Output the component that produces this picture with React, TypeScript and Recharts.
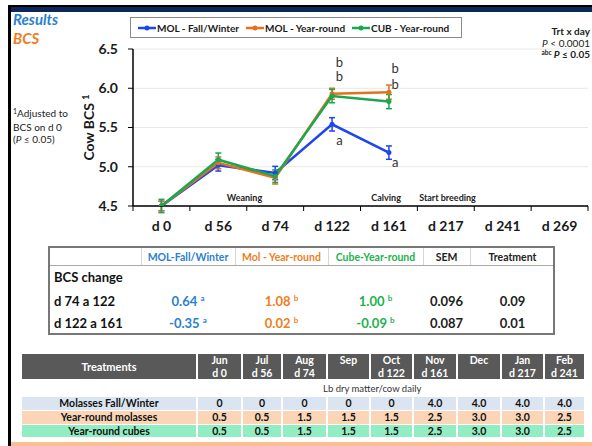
import React from "react";
import {
  LineChart,
  Line,
  XAxis,
  YAxis,
  CartesianGrid,
  ErrorBar,
  Legend,
  ReferenceDot
} from "recharts";

// chart values
const days = ["d 0", "d 56", "d 74", "d 122", "d 161", "d 217", "d 241", "d 269"];
const seriesNames = ["MOL - Fall/Winter", "MOL - Year-round", "CUB - Year-round"];
const molFall = [4.5, 5.02, 4.92, 5.54, 5.18];
const molYear = [4.5, 5.05, 4.86, 5.93, 5.95];
const cubYear = [4.5, 5.09, 4.88, 5.9, 5.83];
const molFallSem = [0.06, 0.075, 0.085, 0.085, 0.085];
const molYearSem = [0.06, 0.075, 0.08, 0.07, 0.09];
const cubYearSem = [0.085, 0.085, 0.08, 0.085, 0.09];
const yTicks = [4.5, 5.0, 5.5, 6.0, 6.5];

// significance letters and events, in data units
const sigLetters = [
  { x: 3.13, y: 6.33, t: "b" },
  { x: 3.13, y: 6.145, t: "b" },
  { x: 3.13, y: 5.34, t: "a" },
  { x: 4.11, y: 6.25, t: "b" },
  { x: 4.11, y: 6.05, t: "b" },
  { x: 4.11, y: 5.05, t: "a" }
];
const events = [
  { x: 1.46, y: 4.605, t: "Weaning" },
  { x: 3.95, y: 4.605, t: "Calving" },
  { x: 5.03, y: 4.605, t: "Start breeding" }
];

// BCS change table
const bcsHeaders = ["", "MOL-Fall/Winter", "Mol - Year-round", "Cube-Year-round", "SEM", "Treatment"];
const bcsPeriods = ["d 74 a 122", "d 122 a 161"];
const bcsMolFall = ["0.64", "-0.35"];
const bcsMolFallSig = ["a", "a"];
const bcsMolYear = ["1.08", "0.02"];
const bcsMolYearSig = ["b", "b"];
const bcsCub = ["1.00", "-0.09"];
const bcsCubSig = ["b", "b"];
const bcsSem = ["0.096", "0.087"];
const bcsTrt = ["0.09", "0.01"];

// supplement table
const months = ["Jun", "Jul", "Aug", "Sep", "Oct", "Nov", "Dec", "Jan", "Feb"];
const monthDays = ["d 0", "d 56", "d 74", "", "d 122", "d 161", "", "d 217", "d 241"];
const treatments = ["Molasses Fall/Winter", "Year-round molasses", "Year-round cubes"];
const feedMolFall = ["0", "0", "0", "0", "0", "4.0", "4.0", "4.0", "4.0"];
const feedMolYear = ["0.5", "0.5", "1.5", "1.5", "1.5", "2.5", "3.0", "3.0", "2.5"];
const feedCubes = ["0.5", "0.5", "1.5", "1.5", "1.5", "2.5", "3.0", "3.0", "2.5"];

const FONT = "Lato, 'Liberation Sans', sans-serif";
const BLUE = "#1f44f2";
const ORANGE = "#e8701c";
const GREEN = "#1aa84e";
const T_BLUE = "#2a7fcf";
const T_ORANGE = "#ef7d22";
const T_GREEN = "#22b24c";

const chartData = molFall.map((v, i) => ({
  i,
  molFall: v,
  molYear: molYear[i],
  cubYear: cubYear[i],
  molFallErr: molFallSem[i],
  molYearErr: molYearSem[i],
  cubYearErr: cubYearSem[i]
}));

const xTicks = days.flatMap((_, k) => [k - 0.5, k]).concat(days.length - 0.5);

function XTick({ x, y, payload }: any) {
  const v = payload.value;
  if (Number.isInteger(v)) {
    return (
      <text x={x} y={y + 25} textAnchor="middle" fontFamily={FONT} fontWeight={700} fontSize={14} fill="#1a1a1a">
        {days[v]}
      </text>
    );
  }
  return <line x1={x} x2={x} y1={y} y2={y + 5} stroke="#000" strokeWidth={1} />;
}

function LegendBox({ payload }: any) {
  return (
    <div
      style={{
        boxSizing: "border-box",
        width: 332,
        height: 21,
        border: "1px solid #8a8a8a",
        background: "#fff",
        display: "flex",
        alignItems: "center",
        paddingLeft: 7,
        gap: 7,
        fontFamily: FONT,
        fontWeight: 700,
        fontSize: 10,
        color: "#1a1a1a",
        whiteSpace: "nowrap"
      }}
    >
      {(payload ?? []).map((p: any) => (
        <span key={p.value} style={{ display: "flex", alignItems: "center", gap: 1 }}>
          <svg width={18} height={8}>
            <line x1={0} x2={18} y1={4} y2={4} stroke={p.color} strokeWidth={2.5} />
            <circle cx={9} cy={4} r={2.5} fill={p.color} />
          </svg>
          {p.value}
        </span>
      ))}
    </div>
  );
}

function Cell({ x, y, w, h, children, style }: any) {
  return (
    <div
      style={{
        position: "absolute",
        left: x,
        top: y,
        width: w,
        height: h,
        display: "flex",
        alignItems: "center",
        justifyContent: "center",
        whiteSpace: "nowrap",
        ...style
      }}
    >
      {children}
    </div>
  );
}

function ValueSig({ v, s }: { v: string; s: string }) {
  return (
    <span>
      {v} <sup style={{ fontSize: 8, verticalAlign: 5 }}>{s}</sup>
    </span>
  );
}

export default function App() {
  const midX = [48, 141, 235, 328, 423, 470, 555];
  const midColors = ["#222", T_BLUE, T_ORANGE, T_GREEN, "#222", "#222"];
  const botX = [22, 198, 243, 283, 328, 371, 414, 458, 502, 545, 586];
  const rowTop = [397, 411, 424.5];
  const rowBg = ["#dbe5f1", "#fbd5b5", "#93edc3"];
  const feeds = [feedMolFall, feedMolYear, feedCubes];

  return (
    <div style={{ position: "relative", width: 592, height: 446, background: "#fff", overflow: "hidden", fontFamily: FONT }}>
      <style>{"body{margin:0}"}</style>

      {/* slide frame */}
      <div style={{ position: "absolute", left: 8, top: 5, width: 584, height: 2, background: "#000" }} />
      <div style={{ position: "absolute", left: 8, top: 7, width: 584, height: 5, background: "#0d2858" }} />
      <div style={{ position: "absolute", left: 8, top: 5, width: 3, height: 441, background: "#000" }} />
      <div style={{ position: "absolute", left: 11, top: 442, width: 581, height: 4, background: "#fac08f" }} />

      <svg width={592} height={446} style={{ position: "absolute", left: 0, top: 0 }}>
        <text x={13} y={24.5} fontFamily={FONT} fontWeight={700} fontStyle="italic" fontSize={15} fill={T_BLUE}>
          Results
        </text>
        <text x={13} y={44} fontFamily={FONT} fontWeight={700} fontStyle="italic" fontSize={15} fill={T_ORANGE}>
          BCS
        </text>
        <g fontFamily={FONT} fontSize={10} fill="#222">
          <text x={13} y={116.5}>
            <tspan fontSize={7} dy={-3}>1</tspan>
            <tspan dy={3}>Adjusted to</tspan>
          </text>
          <text x={13} y={131}>BCS on d 0</text>
          <text x={13} y={143}>
            (<tspan fontStyle="italic">P</tspan> ≤ 0.05)
          </text>
        </g>
        <g fontFamily={FONT} fontSize={10} fill="#222" textAnchor="end">
          <text x={590} y={34.5} fontWeight={700}>Trt x day</text>
          <text x={590} y={47}>
            <tspan fontStyle="italic">P</tspan> &lt; 0.0001
          </text>
          <text x={590} y={57.5} fontWeight={700}>
            <tspan fontSize={6.5} dy={-3}>abc</tspan>
            <tspan dy={3} fontStyle="italic"> P</tspan> ≤ 0.05
          </text>
        </g>
        <text
          transform="translate(94,127.5) rotate(-90)"
          textAnchor="middle"
          fontFamily={FONT}
          fontWeight={700}
          fontSize={14}
          fill="#1a1a1a"
        >
          Cow BCS <tspan fontSize={9} dy={-5}>1</tspan>
        </text>
      </svg>

      <div style={{ position: "absolute", left: 0, top: 0 }}>
        <LineChart width={592} height={240} data={chartData} margin={{ top: 49, right: 4, bottom: 0, left: 0 }}>
          <CartesianGrid vertical={false} stroke="#e8e8e8" />
          <XAxis
            type="number"
            dataKey="i"
            domain={[-0.5, days.length - 0.5]}
            ticks={xTicks}
            interval={0}
            tick={<XTick />}
            tickLine={false}
            tickSize={0}
            tickMargin={0}
            height={34}
            axisLine={{ stroke: "#000", strokeWidth: 1.5 }}
          />
          <YAxis
            type="number"
            domain={[4.5, 6.5]}
            ticks={yTicks}
            allowDataOverflow
            width={133}
            tickSize={5}
            tickMargin={10}
            tickFormatter={(v: number) => v.toFixed(1)}
            tick={{ fill: "#1a1a1a", fontSize: 14, fontWeight: 700, fontFamily: FONT }}
            tickLine={{ stroke: "#000" }}
            axisLine={{ stroke: "#000", strokeWidth: 1.5 }}
          />
          <Legend
            layout="horizontal"
            verticalAlign="middle"
            align="center"
            itemSorter={(item: any) => seriesNames.indexOf(item.value)}
            wrapperStyle={{ top: 17, left: 130, width: 332, height: 21 }}
            content={<LegendBox />}
          />
          <Line
            type="linear"
            dataKey="molFall"
            name={seriesNames[0]}
            stroke={BLUE}
            strokeWidth={2.5}
            dot={{ r: 2.5, fill: BLUE, stroke: BLUE, strokeWidth: 0 }}
            isAnimationActive={false}
          >
            <ErrorBar dataKey="molFallErr" direction="y" width={3} stroke={BLUE} strokeWidth={1.5} />
          </Line>
          <Line
            type="linear"
            dataKey="molYear"
            name={seriesNames[1]}
            stroke={ORANGE}
            strokeWidth={2.5}
            dot={{ r: 2.5, fill: ORANGE, stroke: ORANGE, strokeWidth: 0 }}
            isAnimationActive={false}
          >
            <ErrorBar dataKey="molYearErr" direction="y" width={3} stroke={ORANGE} strokeWidth={1.5} />
          </Line>
          <Line
            type="linear"
            dataKey="cubYear"
            name={seriesNames[2]}
            stroke={GREEN}
            strokeWidth={2.5}
            dot={{ r: 2.5, fill: GREEN, stroke: GREEN, strokeWidth: 0 }}
            isAnimationActive={false}
          >
            <ErrorBar dataKey="cubYearErr" direction="y" width={3} stroke={GREEN} strokeWidth={1.5} />
          </Line>
          {sigLetters.map((s, k) => (
            <ReferenceDot
              key={"s" + k}
              x={s.x}
              y={s.y}
              r={0}
              fill="none"
              stroke="none"
              label={{ value: s.t, position: "center", fill: "#333", fontSize: 13, fontFamily: FONT }}
            />
          ))}
          {events.map((e) => (
            <ReferenceDot
              key={e.t}
              x={e.x}
              y={e.y}
              r={0}
              fill="none"
              stroke="none"
              label={{ value: e.t, position: "center", fill: "#222", fontSize: 9, fontWeight: 700, fontFamily: FONT }}
            />
          ))}
        </LineChart>
      </div>

      {/* BCS change table */}
      <div
        style={{
          position: "absolute",
          left: midX[0],
          top: 246,
          width: midX[6] - midX[0],
          height: 89,
          boxSizing: "border-box",
          border: "2px solid #777"
        }}
      />
      <div style={{ position: "absolute", left: 50, top: 265, width: 503, height: 1, background: "#aaa" }} />
      {midX.slice(1, 6).map((x) => (
        <div key={x} style={{ position: "absolute", left: x, top: 248, width: 1, height: 17, background: "#d6d6d6" }} />
      ))}
      {bcsHeaders.map((h, k) => (
        <Cell key={"h" + k} x={midX[k]} y={248} w={midX[k + 1] - midX[k]} h={17} style={{ fontSize: 10.5, fontWeight: 700, color: midColors[k] }}>
          {h}
        </Cell>
      ))}
      <Cell x={54} y={267} w={90} h={20} style={{ justifyContent: "flex-start", fontSize: 13, fontWeight: 700, color: "#111" }}>
        BCS change
      </Cell>
      {bcsPeriods.map((p, r) => {
        const y = 290 + r * 22;
        const vals = [
          <ValueSig v={bcsMolFall[r]} s={bcsMolFallSig[r]} />,
          <ValueSig v={bcsMolYear[r]} s={bcsMolYearSig[r]} />,
          <ValueSig v={bcsCub[r]} s={bcsCubSig[r]} />,
          bcsSem[r],
          bcsTrt[r]
        ];
        return (
          <React.Fragment key={p}>
            <Cell x={54} y={y} w={87} h={21} style={{ justifyContent: "flex-start", fontSize: 13, fontWeight: 700, color: "#111" }}>
              {p}
            </Cell>
            {vals.map((v, k) => (
              <Cell key={k} x={midX[k + 1]} y={y} w={midX[k + 2] - midX[k + 1]} h={21} style={{ fontSize: 13, fontWeight: 700, color: midColors[k + 1] }}>
                {v}
              </Cell>
            ))}
          </React.Fragment>
        );
      })}

      {/* supplement table */}
      <Cell x={botX[0]} y={354} w={botX[1] - botX[0] - 2} h={25} style={{ background: "#595959", color: "#fff", fontSize: 11, fontWeight: 700 }}>
        Treatments
      </Cell>
      {months.map((m, k) => (
        <div
          key={m}
          style={{
            position: "absolute",
            left: botX[k + 1],
            top: 354,
            width: botX[k + 2] - botX[k + 1] - 2,
            height: 25,
            background: "#595959",
            color: "#fff",
            fontSize: 10.5,
            fontWeight: 700,
            textAlign: "center",
            lineHeight: "12.5px"
          }}
        >
          <div>{m}</div>
          <div>{monthDays[k]}</div>
        </div>
      ))}
      <div style={{ position: "absolute", left: 323, top: 383, fontSize: 9.5, color: "#333", whiteSpace: "nowrap" }}>
        Lb dry matter/cow daily
      </div>
      {treatments.map((t, r) => (
        <React.Fragment key={t}>
          <Cell x={botX[0]} y={rowTop[r]} w={botX[1] - botX[0] - 2} h={12.5} style={{ background: rowBg[r], fontSize: 10.5, fontWeight: 700, color: "#111" }}>
            {t}
          </Cell>
          {feeds[r].map((v, k) => (
            <Cell
              key={k}
              x={botX[k + 1]}
              y={rowTop[r]}
              w={botX[k + 2] - botX[k + 1] - 2}
              h={12.5}
              style={{ background: rowBg[r], fontSize: 10.5, fontWeight: 700, color: "#111" }}
            >
              {v}
            </Cell>
          ))}
        </React.Fragment>
      ))}
    </div>
  );
}
